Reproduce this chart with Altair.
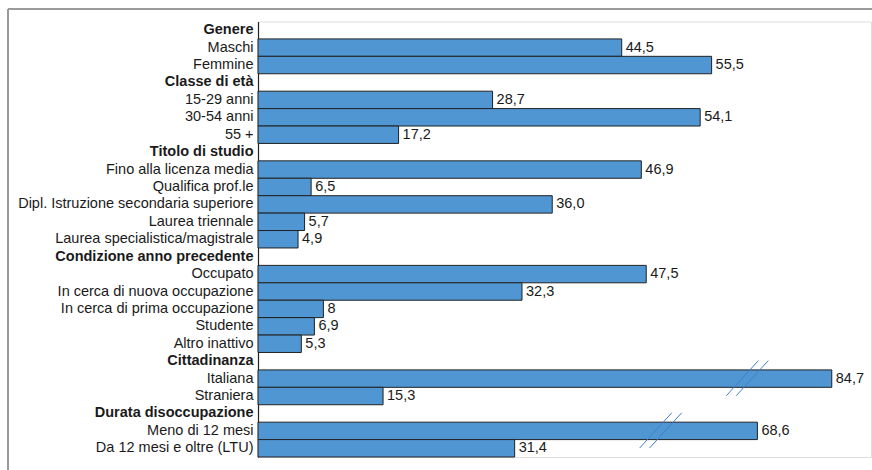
import json
import altair as alt
import pandas as pd

# ---- data ----
headers = ["Genere", "Classe di età", "Titolo di studio",
           "Condizione anno precedente", "Cittadinanza", "Durata disoccupazione"]
genere = ["Maschi", "Femmine"]
genere_val = [44.5, 55.5]
eta = ["15-29 anni", "30-54 anni", "55 +"]
eta_val = [28.7, 54.1, 17.2]
studio = ["Fino alla licenza media", "Qualifica prof.le",
          "Dipl. Istruzione secondaria superiore", "Laurea triennale",
          "Laurea specialistica/magistrale"]
studio_val = [46.9, 6.5, 36.0, 5.7, 4.9]
condizione = ["Occupato", "In cerca di nuova occupazione",
              "In cerca di prima occupazione", "Studente", "Altro inattivo"]
condizione_val = [47.5, 32.3, 8, 6.9, 5.3]
cittadinanza = ["Italiana", "Straniera"]
cittadinanza_val = [84.7, 15.3]
durata = ["Meno di 12 mesi", "Da 12 mesi e oltre (LTU)"]
durata_val = [68.6, 31.4]

# bars drawn shorter than their value (axis break), and where the break sits
broken_items = ["Italiana", "Meno di 12 mesi"]
broken_drawn = [70.2, 61.1]
break_at = [59.9, 49.3]

groups = [genere, eta, studio, condizione, cittadinanza, durata]
group_vals = [genere_val, eta_val, studio_val, condizione_val, cittadinanza_val, durata_val]

rows = []
bar_rows = []
for h, items, vals in zip(headers, groups, group_vals):
    rows.append(h)
    for it, v in zip(items, vals):
        rows.append(it)
        drawn = broken_drawn[broken_items.index(it)] if it in broken_items else v
        bar_rows.append({"cat": it, "value": v, "drawn": drawn,
                         "label": str(v).replace(".", ",")})
bars_df = pd.DataFrame(bar_rows)
breaks_df = pd.DataFrame({"cat": broken_items, "pos": break_at})

FONT = "Liberation Sans"
FS = 14.5
W = 613
H = 435.5
XMAX = 75

y_enc = alt.Y("cat:N", sort=rows,
              scale=alt.Scale(domain=rows, paddingInner=0, paddingOuter=0),
              axis=alt.Axis(title=None, ticks=False, grid=False, labelPadding=5,
                            labelFont=FONT, labelFontSize=FS, labelColor="#1a1a1a",
                            labelLimit=400, labelAlign="right", labelBaseline="middle",
                            domainColor="#222222", domainWidth=1.2,
                            labelFontWeight={"condition": {
                                "test": "indexof(" + json.dumps(headers, ensure_ascii=False) + ", datum.value) >= 0",
                                "value": "bold"}, "value": "normal"}))
x_scale = alt.Scale(domain=[0, XMAX], nice=False, zero=True)

base = alt.Chart(bars_df)
bars = base.mark_bar(color="#4f96d2", stroke="#222222", strokeWidth=1).encode(
    y=y_enc,
    x=alt.X("drawn:Q", scale=x_scale, axis=None),
)
labels = base.mark_text(align="left", baseline="middle", dx=4, font=FONT,
                        fontSize=FS, color="#1a1a1a").encode(
    y=alt.Y("cat:N", sort=rows),
    x=alt.X("drawn:Q", scale=x_scale),
    text="label:N",
)
breaks = alt.Chart(breaks_df).mark_point(
    shape="M-1.18,0.95L0.6,-1M-0.63,0.95L1.15,-1",
    size=1296, filled=False, stroke="#3f7fcc", strokeWidth=1, opacity=1,
).encode(
    y=alt.Y("cat:N", sort=rows),
    x=alt.X("pos:Q", scale=x_scale),
)

frame_top = alt.Chart(bars_df).mark_rule(color="#9a9a9a", strokeWidth=1.5).encode(
    x=alt.value(-250), x2=alt.value(W + 10), y=alt.value(-12.5))
frame_left = alt.Chart(bars_df).mark_rule(color="#9a9a9a", strokeWidth=1.5).encode(
    x=alt.value(-250), y=alt.value(-12.5), y2=alt.value(H + 20))

chart = alt.layer(frame_top, frame_left, bars, labels, breaks).properties(
    width=W, height=H,
    autosize=alt.AutoSizeParams(type="none"),
    padding={"left": 258, "top": 21.5, "right": 1, "bottom": 13},
).configure_view(stroke=None).configure(background="white")

chart.save("out.html", embed_options={"renderer": "svg", "actions": False})
